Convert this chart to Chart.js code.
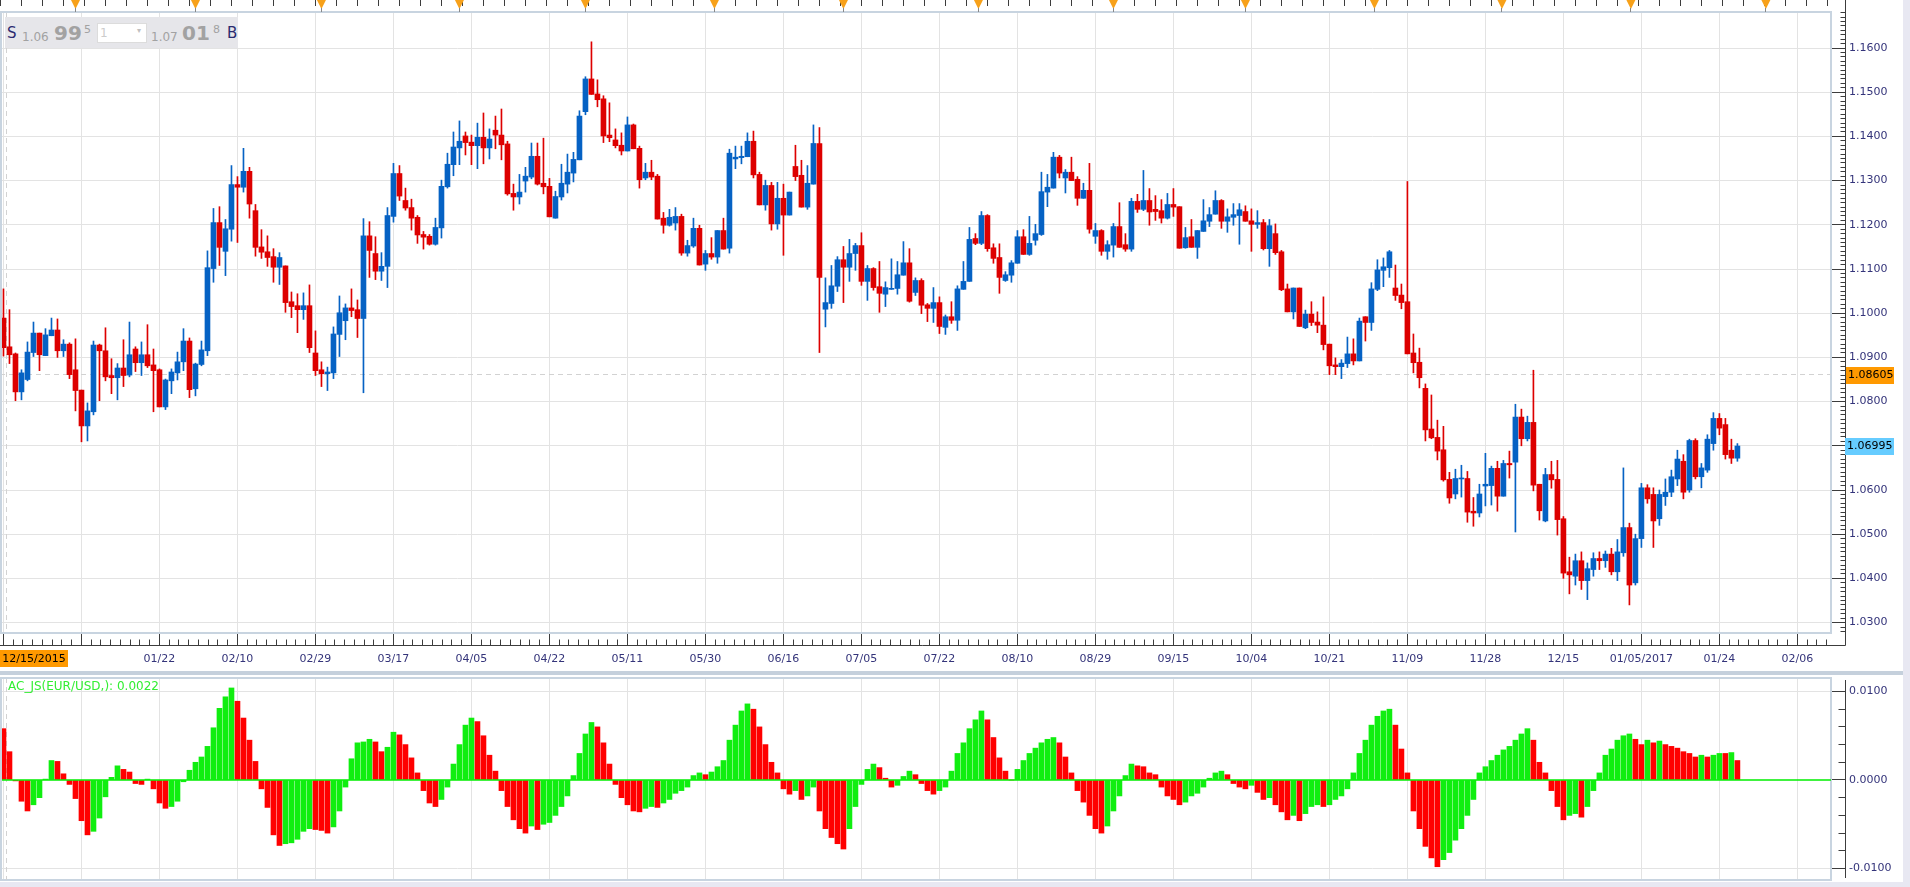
<!DOCTYPE html>
<html>
<head>
<meta charset="utf-8">
<script src="https://cdn.jsdelivr.net/npm/chart.js@4.4.1/dist/chart.umd.min.js"></script>
<style>
body{margin:0;background:#e8e8f2;width:1910px;height:887px;overflow:hidden;position:relative;font-family:"DejaVu Sans",sans-serif}
canvas{position:absolute;left:0;background:#fff}
#sep{position:absolute;left:0;top:671px;width:1903px;height:4px;background:#c5d0dc}
#info{position:absolute;left:5px;top:17px;width:233px;height:31px;background:#e6e6ea;color:#a2a2a2}
#info span{position:absolute;line-height:1;white-space:nowrap}
#info .nav{color:#2b2b70;font-size:15px;top:9px}
#info .sm{font-size:12px;top:14px}
#info .big{font-size:20px;font-weight:bold;top:6px}
#info .sup{font-size:11px;top:7px}
#info .box{left:92px;top:6px;width:48px;height:18px;background:#fff;border:1px solid #dcdcdc}
</style>
</head>
<body>
<canvas id="price" width="1903" height="671" style="top:0"></canvas>
<div id="sep"></div>
<canvas id="ac" width="1903" height="207" style="top:675px"></canvas>
<div id="info">
  <span class="nav" style="left:2px">S</span>
  <span class="sm" style="left:17px">1.06</span>
  <span class="big" style="left:49px">99</span>
  <span class="sup" style="left:79px">5</span>
  <span class="box"></span>
  <span class="sm" style="left:95px;top:10px;color:#cccccc">1</span>
  <span class="sm" style="left:132px;top:10px;font-size:8px;color:#c0c0c0">&#9662;</span>
  <span class="sm" style="left:146px">1.07</span>
  <span class="big" style="left:177px">01</span>
  <span class="sup" style="left:208px">8</span>
  <span class="nav" style="left:222px">B</span>
</div>
<script>
Chart.defaults.font.family = '"DejaVu Sans", sans-serif'
Chart.defaults.font.size = 11

// ------------------------------- DATA (EUR/USD daily, 12/15/2015 ..)

var opens = [
 1.0989,1.0924,1.0908,1.0822,1.0850,1.0911,1.0955,1.0904,1.0949,1.0962,
 1.0915,1.0930,1.0872,1.0826,1.0745,1.0777,1.0928,1.0915,1.0859,1.0854,
 1.0876,1.0860,1.0919,1.0888,1.0906,1.0883,1.0872,1.0788,1.0847,1.0865,
 1.0890,1.0937,1.0829,1.0884,1.0915,1.1101,1.1205,1.1140,1.1190,1.1291,
 1.1285,1.1321,1.1232,1.1150,1.1139,1.1128,1.1104,1.1107,1.1026,1.1017,
 1.1008,1.1017,1.0910,1.0872,1.0863,1.0865,1.0952,1.0983,1.1012,1.1008,
 1.0988,1.1175,1.1135,1.1095,1.1106,1.1219,1.1316,1.1255,1.1239,1.1217,
 1.1178,1.1174,1.1156,1.1193,1.1286,1.1336,1.1374,1.1401,1.1387,1.1379,
 1.1398,1.1374,1.1414,1.1403,1.1383,1.1271,1.1263,1.1299,1.1308,1.1355,
 1.1294,1.1287,1.1215,1.1263,1.1292,1.1317,1.1347,1.1456,1.1530,1.1496,
 1.1485,1.1403,1.1392,1.1380,1.1367,1.1426,1.1373,1.1306,1.1319,1.1310,
 1.1215,1.1199,1.1204,1.1219,1.1136,1.1152,1.1192,1.1111,1.1135,1.1127,
 1.1187,1.1147,1.1349,1.1352,1.1354,1.1389,1.1314,1.1245,1.1289,1.1202,
 1.1260,1.1222,1.1332,1.1312,1.1240,1.1292,1.1384,1.1009,1.1022,1.1061,
 1.1121,1.1104,1.1135,1.1153,1.1072,1.1101,1.1060,1.1043,1.1054,1.1056,
 1.1086,1.1114,1.1047,1.1074,1.1019,1.1011,1.1024,1.0968,1.0992,1.0984,
 1.1054,1.1072,1.1169,1.1158,1.1221,1.1148,1.1126,1.1074,1.1086,1.1113,
 1.1173,1.1133,1.1165,1.1178,1.1274,1.1283,1.1353,1.1306,1.1319,1.1303,
 1.1260,1.1278,1.1174,1.1187,1.1140,1.1154,1.1196,1.1155,1.1145,1.1253,
 1.1235,1.1255,1.1235,1.1232,1.1215,1.1246,1.1241,1.1148,1.1173,1.1149,
 1.1185,1.1208,1.1224,1.1255,1.1208,1.1217,1.1221,1.1230,1.1209,1.1201,
 1.1205,1.1146,1.1180,1.1139,1.1055,1.1003,1.1057,1.0967,1.0998,1.0980,
 1.0973,1.0930,1.0883,1.0879,1.0886,1.0908,1.0892,1.0992,1.0979,1.1054,
 1.1097,1.1103,1.1057,1.1041,1.1026,1.0910,1.0889,1.0830,1.0738,1.0719,
 1.0691,1.0624,1.0591,1.0625,1.0626,1.0552,1.0548,1.0609,1.0610,1.0649,
 1.0586,1.0660,1.0663,1.0765,1.0716,1.0753,1.0613,1.0530,1.0635,1.0624,
 1.0535,1.0415,1.0405,1.0440,1.0395,1.0420,1.0445,1.0440,1.0455,1.0415,
 1.0458,1.0515,1.0390,1.0490,1.0605,1.0590,1.0535,1.0585,1.0595,1.0625,
 1.0665,1.0600,1.0712,1.0630,1.0645,1.0705,1.0762,1.0748,1.0690,1.0672
]

var highs = [
 1.1055,1.1008,1.0910,1.0872,1.0935,1.0980,1.0955,1.0965,1.0989,1.0987,
 1.0940,1.0933,1.0942,1.0826,1.0797,1.0937,1.0930,1.0967,1.0897,1.0886,
 1.0940,1.0980,1.0924,1.0935,1.0974,1.0919,1.0874,1.0851,1.0874,1.0912,
 1.0965,1.0944,1.0887,1.0937,1.1141,1.1237,1.1241,1.1212,1.1334,1.1309,
 1.1373,1.1330,1.1246,1.1189,1.1175,1.1146,1.1137,1.1107,1.1048,1.1044,
 1.1046,1.1064,1.0960,1.0890,1.0878,1.0969,1.1039,1.1021,1.1055,1.1030,
 1.1214,1.1207,1.1173,1.1137,1.1239,1.1339,1.1334,1.1283,1.1258,1.1221,
 1.1185,1.1178,1.1215,1.1301,1.1362,1.1410,1.1435,1.1410,1.1403,1.1430,
 1.1453,1.1417,1.1446,1.1462,1.1389,1.1292,1.1314,1.1330,1.1385,1.1385,
 1.1396,1.1305,1.1276,1.1337,1.1360,1.1364,1.1458,1.1535,1.1614,1.1528,
 1.1492,1.1476,1.1417,1.1408,1.1444,1.1428,1.1378,1.1339,1.1346,1.1314,
 1.1228,1.1235,1.1239,1.1224,1.1165,1.1215,1.1199,1.1142,1.1171,1.1187,
 1.1215,1.1371,1.1378,1.1378,1.1408,1.1412,1.1319,1.1301,1.1296,1.1296,
 1.1292,1.1274,1.1380,1.1346,1.1334,1.1426,1.1420,1.1080,1.1108,1.1128,
 1.1151,1.1167,1.1158,1.1182,1.1108,1.1103,1.1117,1.1071,1.1123,1.1117,
 1.1162,1.1146,1.1080,1.1078,1.1022,1.1058,1.1037,1.0996,1.1026,1.1062,
 1.1117,1.1194,1.1180,1.1230,1.1223,1.1157,1.1157,1.1094,1.1119,1.1187,
 1.1189,1.1219,1.1201,1.1319,1.1314,1.1364,1.1357,1.1325,1.1353,1.1309,
 1.1294,1.1339,1.1203,1.1189,1.1164,1.1203,1.1250,1.1180,1.1260,1.1269,
 1.1323,1.1282,1.1266,1.1257,1.1271,1.1282,1.1241,1.1194,1.1212,1.1187,
 1.1257,1.1239,1.1277,1.1257,1.1236,1.1248,1.1248,1.1243,1.1236,1.1232,
 1.1212,1.1212,1.1202,1.1142,1.1066,1.1057,1.1057,1.1007,1.1026,1.1003,
 1.1037,1.0930,1.0899,1.0895,1.0946,1.0942,1.0989,1.0992,1.1069,1.1121,
 1.1125,1.1142,1.1109,1.1066,1.1298,1.0953,1.0921,1.0840,1.0815,1.0758,
 1.0744,1.0640,1.0647,1.0656,1.0642,1.0583,1.0613,1.0683,1.0654,1.0665,
 1.0667,1.0688,1.0794,1.0783,1.0767,1.0871,1.0613,1.0649,1.0665,1.0667,
 1.0540,1.0448,1.0455,1.0460,1.0435,1.0458,1.0460,1.0462,1.0468,1.0488,
 1.0650,1.0525,1.0500,1.0615,1.0612,1.0605,1.0600,1.0625,1.0645,1.0690,
 1.0680,1.0715,1.0716,1.0660,1.0725,1.0775,1.0773,1.0762,1.0715,1.0705
]

var lows = [
 1.0903,1.0886,1.0802,1.0804,1.0847,1.0902,1.0870,1.0904,1.0949,1.0900,
 1.0902,1.0852,1.0779,1.0709,1.0711,1.0770,1.0802,1.0847,1.0818,1.0804,
 1.0834,1.0856,1.0868,1.0859,1.0877,1.0777,1.0788,1.0782,1.0818,1.0849,
 1.0870,1.0809,1.0813,1.0881,1.0904,1.1070,1.1108,1.1085,1.1163,1.1160,
 1.1274,1.1215,1.1129,1.1124,1.1106,1.1070,1.1065,1.1002,1.0990,1.0956,
 1.0986,1.0911,1.0859,1.0834,1.0825,1.0852,1.0902,1.0940,1.0992,1.0945,
 1.0820,1.1081,1.1076,1.1074,1.1058,1.1206,1.1255,1.1233,1.1188,1.1158,
 1.1145,1.1154,1.1154,1.1170,1.1283,1.1311,1.1336,1.1358,1.1336,1.1327,
 1.1338,1.1349,1.1372,1.1347,1.1267,1.1233,1.1247,1.1274,1.1304,1.1290,
 1.1270,1.1218,1.1215,1.1256,1.1272,1.1297,1.1347,1.1449,1.1495,1.1467,
 1.1386,1.1388,1.1374,1.1358,1.1367,1.1372,1.1283,1.1302,1.1302,1.1213,
 1.1181,1.1197,1.1188,1.1131,1.1129,1.1149,1.1109,1.1097,1.1122,1.1113,
 1.1145,1.1136,1.1327,1.1338,1.1354,1.1306,1.1245,1.1233,1.1188,1.1190,
 1.1131,1.1222,1.1300,1.1240,1.1235,1.1292,1.0911,1.0969,1.1011,1.1049,
 1.1024,1.1072,1.1097,1.1063,1.1029,1.1052,1.1002,1.1015,1.1054,1.1043,
 1.1086,1.1025,1.1040,1.0999,1.0981,1.0979,1.0954,1.0952,1.0977,1.0961,
 1.1054,1.1072,1.1155,1.1155,1.1140,1.1113,1.1045,1.1072,1.1070,1.1113,
 1.1133,1.1131,1.1154,1.1176,1.1241,1.1283,1.1306,1.1272,1.1300,1.1244,
 1.1260,1.1181,1.1158,1.1131,1.1122,1.1127,1.1149,1.1140,1.1140,1.1228,
 1.1232,1.1199,1.1210,1.1204,1.1213,1.1219,1.1147,1.1147,1.1149,1.1124,
 1.1185,1.1196,1.1224,1.1192,1.1183,1.1199,1.1156,1.1208,1.1140,1.1192,
 1.1143,1.1106,1.1133,1.1051,1.1003,1.0987,1.0970,1.0965,1.0972,1.0956,
 1.0917,1.0861,1.0861,1.0852,1.0877,1.0883,1.0892,1.0937,1.0961,1.1051,
 1.1060,1.1081,1.1029,1.1010,1.0908,1.0865,1.0831,1.0711,1.0716,1.0668,
 1.0620,1.0570,1.0580,1.0584,1.0527,1.0518,1.0539,1.0564,1.0566,1.0552,
 1.0586,1.0627,1.0505,1.0700,1.0711,1.0598,1.0532,1.0528,1.0604,1.0498,
 1.0400,1.0365,1.0385,1.0375,1.0352,1.0405,1.0420,1.0425,1.0408,1.0395,
 1.0450,1.0340,1.0385,1.0470,1.0570,1.0470,1.0520,1.0565,1.0585,1.0610,
 1.0580,1.0595,1.0625,1.0605,1.0640,1.0690,1.0725,1.0670,1.0660,1.0665
]

var closes = [
 1.0922,1.0906,1.0822,1.0865,1.0912,1.0955,1.0906,1.0951,1.0962,1.0915,
 1.0930,1.0861,1.0825,1.0745,1.0779,1.0928,1.0915,1.0856,1.0854,1.0876,
 1.0859,1.0906,1.0888,1.0906,1.0881,1.0870,1.0788,1.0849,1.0867,1.0890,
 1.0937,1.0827,1.0885,1.0917,1.1103,1.1205,1.1149,1.1191,1.1291,1.1285,
 1.1321,1.1247,1.1149,1.1138,1.1126,1.1104,1.1126,1.1024,1.1015,1.1008,
 1.1017,1.0922,1.0870,1.0863,1.0867,1.0953,1.1001,1.1012,1.1006,1.0988,
 1.1175,1.1142,1.1095,1.1106,1.1221,1.1316,1.1265,1.1238,1.1215,1.1177,
 1.1172,1.1156,1.1194,1.1287,1.1337,1.1376,1.1389,1.1386,1.1379,1.1398,
 1.1374,1.1394,1.1403,1.1381,1.1270,1.1263,1.1274,1.1310,1.1355,1.1292,
 1.1286,1.1218,1.1264,1.1294,1.1319,1.1348,1.1446,1.1530,1.1495,1.1483,
 1.1401,1.1397,1.1379,1.1367,1.1426,1.1372,1.1302,1.1319,1.1308,1.1213,
 1.1199,1.1217,1.1219,1.1136,1.1153,1.1192,1.1109,1.1135,1.1127,1.1187,
 1.1145,1.1362,1.1353,1.1355,1.1389,1.1313,1.1245,1.1289,1.1202,1.1260,
 1.1222,1.1274,1.1309,1.1240,1.1294,1.1384,1.1081,1.1024,1.1062,1.1121,
 1.1104,1.1135,1.1153,1.1072,1.1101,1.1058,1.1045,1.1058,1.1056,1.1087,
 1.1114,1.1027,1.1074,1.1018,1.1011,1.1024,1.0970,1.0992,1.0984,1.1055,
 1.1072,1.1167,1.1158,1.1221,1.1146,1.1124,1.1081,1.1087,1.1114,1.1173,
 1.1133,1.1158,1.1180,1.1275,1.1285,1.1353,1.1317,1.1319,1.1300,1.1260,
 1.1278,1.1190,1.1187,1.1140,1.1155,1.1196,1.1149,1.1145,1.1253,1.1235,
 1.1255,1.1229,1.1230,1.1215,1.1246,1.1240,1.1147,1.1171,1.1149,1.1187,
 1.1209,1.1223,1.1255,1.1208,1.1218,1.1223,1.1234,1.1208,1.1201,1.1205,
 1.1146,1.1198,1.1137,1.1053,1.1003,1.1057,1.0970,1.0998,1.0979,1.0973,
 1.0929,1.0881,1.0879,1.0887,1.0908,1.0892,1.0982,1.0979,1.1055,1.1098,
 1.1105,1.1139,1.1040,1.1024,1.0908,1.0888,1.0854,1.0736,1.0718,1.0688,
 1.0623,1.0582,1.0626,1.0626,1.0550,1.0548,1.0591,1.0613,1.0649,1.0586,
 1.0660,1.0657,1.0765,1.0716,1.0753,1.0611,1.0553,1.0635,1.0623,1.0533,
 1.0412,1.0408,1.0440,1.0395,1.0422,1.0445,1.0440,1.0455,1.0415,1.0460,
 1.0515,1.0385,1.0490,1.0605,1.0580,1.0530,1.0590,1.0595,1.0630,1.0670,
 1.0595,1.0712,1.0630,1.0650,1.0715,1.0762,1.0740,1.0680,1.0672,1.06995
]

// AC oscillator, one value per candle
var acValues = [
  0.0058, 0.0032,-0.0001,-0.0024,-0.0035,-0.0028,-0.0020, 0.0001, 0.0022, 0.0021,
  0.0007,-0.0005,-0.0021,-0.0046,-0.0062,-0.0058,-0.0043,-0.0019, 0.0003, 0.0016,
  0.0012, 0.0009,-0.0004,-0.0005, 0.0001,-0.0010,-0.0026,-0.0032,-0.0030,-0.0024,
 -0.0002, 0.0011, 0.0020, 0.0026, 0.0038, 0.0059, 0.0081, 0.0094, 0.0104, 0.0089,
  0.0070, 0.0045, 0.0021,-0.0010,-0.0031,-0.0062,-0.0074,-0.0072,-0.0071,-0.0067,
 -0.0058,-0.0055,-0.0056,-0.0057,-0.0060,-0.0053,-0.0035,-0.0008, 0.0024, 0.0042,
  0.0043, 0.0046, 0.0043, 0.0032, 0.0037, 0.0054, 0.0051, 0.0040, 0.0025, 0.0008,
 -0.0012,-0.0026,-0.0030,-0.0022,-0.0008, 0.0018, 0.0040, 0.0062, 0.0070, 0.0066,
  0.0050, 0.0028, 0.0010,-0.0012,-0.0030,-0.0045,-0.0055,-0.0060,-0.0052,-0.0056,
 -0.0050,-0.0048,-0.0040,-0.0030,-0.0018, 0.0005, 0.0030, 0.0052, 0.0065, 0.0060,
  0.0042, 0.0018,-0.0005,-0.0020,-0.0028,-0.0035,-0.0036,-0.0032,-0.0030,-0.0031,
 -0.0026,-0.0022,-0.0015,-0.0012,-0.0008, 0.0005, 0.0008, 0.0006, 0.0009, 0.0015,
  0.0022, 0.0045, 0.0062, 0.0078, 0.0086, 0.0080, 0.0060, 0.0040, 0.0020, 0.0008,
 -0.0010,-0.0016,-0.0012,-0.0022,-0.0018,-0.0008,-0.0035,-0.0055,-0.0065,-0.0072,
 -0.0078,-0.0055,-0.0030,-0.0005, 0.0012, 0.0018, 0.0014, 0.0002,-0.0008,-0.0006,
  0.0004, 0.0010, 0.0006,-0.0004,-0.0012,-0.0016,-0.0012,-0.0008, 0.0010, 0.0030,
  0.0042, 0.0058, 0.0068, 0.0078, 0.0068, 0.0048, 0.0025, 0.0010, 0.0000, 0.0012,
  0.0022, 0.0030, 0.0036, 0.0042, 0.0046, 0.0048, 0.0042, 0.0026, 0.0008,-0.0012,
 -0.0025,-0.0040,-0.0055,-0.0060,-0.0052,-0.0035,-0.0018, 0.0005, 0.0018, 0.0016,
  0.0015, 0.0008, 0.0006,-0.0008,-0.0018,-0.0022,-0.0028,-0.0025,-0.0018,-0.0015,
 -0.0008, 0.0002, 0.0008, 0.0010, 0.0006,-0.0004,-0.0008,-0.0010,-0.0006,-0.0014,
 -0.0022,-0.0020,-0.0028,-0.0036,-0.0045,-0.0040,-0.0046,-0.0038,-0.0030,-0.0028,
 -0.0030,-0.0028,-0.0022,-0.0018,-0.0010, 0.0008, 0.0030, 0.0045, 0.0062, 0.0072,
  0.0078, 0.0080, 0.0062, 0.0035, 0.0008,-0.0035,-0.0055,-0.0075,-0.0088,-0.0098,
 -0.0090,-0.0082,-0.0068,-0.0055,-0.0040,-0.0022, 0.0008, 0.0015, 0.0022, 0.0028,
  0.0034, 0.0038, 0.0045, 0.0052, 0.0058, 0.0045, 0.0020, 0.0008,-0.0012,-0.0030,
 -0.0045,-0.0040,-0.0038,-0.0042,-0.0030,-0.0012, 0.0008, 0.0028, 0.0035, 0.0045,
  0.0050, 0.0052, 0.0046, 0.0040, 0.0045, 0.0042, 0.0044, 0.0040, 0.0038, 0.0036,
  0.0032, 0.0030, 0.0026, 0.0028, 0.0026, 0.0028, 0.0030, 0.0030, 0.0031, 0.0022
]

var xTickIdx = [0,13,26,39,52,65,78,91,104,117,130,143,156,169,182,195,208,221,234,247,260,273,286,299]
var xTickLabels = ['','','01/22','02/10','02/29','03/17','04/05','04/22','05/11','05/30','06/16','07/05',
  '07/22','08/10','08/29','09/15','10/04','10/21','11/09','11/28','12/15','01/05/2017','01/24','02/06']
var priceTicks = [1.03,1.04,1.05,1.06,1.07,1.08,1.09,1.10,1.11,1.12,1.13,1.14,1.15,1.16]
var acTicks = [-0.01, 0, 0.01]
var monthMarks = [12,32,53,76,97,118.5,140,162.5,185,207,228.5,249.75,271.25,293.75]

var crossPrice = 1.08605
var crossIndex = 0.5
var crossDate = '12/15/2015'
var acName = 'AC_JS(EUR/USD,)'

// ------------------------------- LOOKS

var xMin = -0.58, xMax = 304.6
var priceMin = 1.027647, priceMax = 1.168145
var acMin = -0.0113, acMax = 0.011525

var upCol = '#0662c4', downCol = '#dd0000'
var acUp = '#10ee10', acDown = '#ff0000'
var gridCol = '#e3e3e3', frameCol = '#c8d4e0', axisCol = '#3c3c3c', labelCol = '#34347a'

var candleColors = closes.map((c,i) => c >= opens[i] ? upCol : downCol)
var wickData = lows.map((l,i) => ({x: i, y: [l, highs[i]]}))
var bodyData = opens.map((o,i) => ({x: i, y: [o, closes[i]]}))
var acData = acValues.map((v,i) => ({x: i, y: v}))
var acColors = acValues.map((v,i) => (i > 0 && v > acValues[i-1]) ? acUp : acDown)

function fixBox(w, h){
    return (s) => {
        if(w != null) s.width = w
        if(h != null) s.height = h
        s.paddingLeft = 0; s.paddingRight = 0; s.paddingTop = 0; s.paddingBottom = 0
    }
}

function xScale(showLabels){
    return {
        type: 'linear', min: xMin, max: xMax, offset: false,
        afterBuildTicks: (s) => { s.ticks = xTickIdx.map(v => ({value: v})) },
        afterFit: fixBox(null, showLabels ? 38 : 0),
        grid: {color: gridCol, offset: false, drawTicks: showLabels, tickLength: 12, tickColor: axisCol},
        border: {color: frameCol, width: 2},
        ticks: {display: showLabels, autoSkip: false, maxRotation: 0, padding: 8, color: labelCol,
                callback: (v, i) => xTickLabels[i]}
    }
}

function line(ctx, x1, y1, x2, y2){
    ctx.moveTo(x1, y1); ctx.lineTo(x2, y2)
}

function px(scale, v){
    return Math.floor(scale.getPixelForValue(v)) + 0.5
}

function tag(ctx, x, y, w, col, text){
    ctx.fillStyle = col
    ctx.fillRect(x, Math.round(y) - 8, w, 17)
    ctx.fillStyle = '#000'
    ctx.font = '11px "DejaVu Sans"'
    ctx.textBaseline = 'middle'
    ctx.textAlign = 'left'
    ctx.fillText(text, x + 2, Math.round(y) + 0.5)
}

var priceDecor = {
    id: 'priceDecor',
    beforeDatasetsDraw(chart){
        const {ctx, chartArea: a, scales: {x, y}} = chart
        ctx.save()
        ctx.strokeStyle = '#d2d2d2'
        ctx.lineWidth = 1
        ctx.setLineDash([5,4])
        ctx.beginPath()
        line(ctx, a.left, px(y, crossPrice), a.right, px(y, crossPrice))
        line(ctx, px(x, crossIndex), a.top, px(x, crossIndex), a.bottom)
        ctx.stroke()
        ctx.restore()
    },
    afterDraw(chart){
        const {ctx, chartArea: a, scales: {x, y}} = chart
        const axX = a.right + 14.5, axY = a.bottom + 12.5
        ctx.save()
        // plot frame top and left
        ctx.strokeStyle = frameCol
        ctx.lineWidth = 2
        ctx.beginPath()
        line(ctx, 0, a.top, a.right, a.top)
        line(ctx, 1, a.top, 1, a.bottom)
        ctx.stroke()
        // axes lines and minor ticks
        ctx.strokeStyle = axisCol
        ctx.lineWidth = 1
        ctx.beginPath()
        line(ctx, 0, axY, axX, axY)
        line(ctx, axX, 0, axX, axY)
        for(let k = 1; k * 13 / 8 <= xMax; k++){
            if(k % 8 == 0) continue
            let p = px(x, k * 13 / 8)
            line(ctx, p, axY - 6, p, axY)
        }
        for(let k = 1028; k <= 1168; k++){
            if(k % 10 == 0) continue
            let p = px(y, k / 1000)
            line(ctx, axX - 5, p, axX, p)
        }
        // top timeline ticks
        for(let v = -0.5; v <= xMax; v += 3.5){
            let p = px(x, v)
            line(ctx, p, 0, p, 6)
        }
        ctx.stroke()
        // month markers
        for(let m of monthMarks){
            let p = x.getPixelForValue(m)
            ctx.fillStyle = '#f7a11a'
            ctx.beginPath()
            ctx.moveTo(p - 4.5, 0); ctx.lineTo(p + 4.5, 0); ctx.lineTo(p, 9)
            ctx.closePath()
            ctx.fill()
            ctx.strokeStyle = '#888'
            ctx.beginPath()
            line(ctx, Math.floor(p) + 0.5, 8, Math.floor(p) + 0.5, 12)
            ctx.stroke()
        }
        // price tags
        tag(ctx, a.right + 15, y.getPixelForValue(crossPrice), 48, '#ff9900', crossPrice.toFixed(5))
        let last = closes[closes.length - 1]
        tag(ctx, a.right + 14, y.getPixelForValue(last), 49, '#66ccff', last.toFixed(5))
        // date tag
        ctx.fillStyle = '#ff9900'
        ctx.fillRect(0, a.bottom + 17, 68, 17)
        ctx.fillStyle = '#000'
        ctx.textAlign = 'center'
        ctx.textBaseline = 'middle'
        ctx.fillText(crossDate, 34, a.bottom + 26)
        ctx.restore()
    }
}

var acDecor = {
    id: 'acDecor',
    beforeDatasetsDraw(chart){
        const {ctx, chartArea: a, scales: {x}} = chart
        ctx.save()
        ctx.strokeStyle = '#d2d2d2'
        ctx.setLineDash([5,4])
        ctx.beginPath()
        line(ctx, px(x, crossIndex), a.top, px(x, crossIndex), a.bottom)
        ctx.stroke()
        ctx.restore()
    },
    afterDatasetsDraw(chart){
        const {ctx, chartArea: a, scales: {y}} = chart
        ctx.save()
        ctx.strokeStyle = '#00ee00'
        ctx.lineWidth = 1.5
        ctx.beginPath()
        line(ctx, a.left, y.getPixelForValue(0), a.right, y.getPixelForValue(0))
        ctx.stroke()
        ctx.restore()
    },
    afterDraw(chart){
        const {ctx, chartArea: a, scales: {y}} = chart
        const axX = a.right + 14.5
        ctx.save()
        ctx.strokeStyle = frameCol
        ctx.lineWidth = 2
        ctx.beginPath()
        line(ctx, 0, a.top, a.right, a.top)
        line(ctx, 1, a.top, 1, a.bottom)
        ctx.stroke()
        ctx.strokeStyle = axisCol
        ctx.lineWidth = 1
        ctx.beginPath()
        line(ctx, axX, a.top + 2, axX, a.bottom - 2)
        for(let k = -5; k <= 5; k++){
            if(k % 5 == 0) continue
            let p = px(y, k * 0.002)
            line(ctx, axX - 7, p, axX, p)
        }
        ctx.stroke()
        ctx.fillStyle = '#33ee33'
        ctx.font = '12px "DejaVu Sans"'
        ctx.textAlign = 'left'
        ctx.textBaseline = 'middle'
        ctx.fillText(acName + ': ' + acValues[acValues.length - 1].toFixed(4), 8, a.top + 8.5)
        ctx.restore()
    }
}

new Chart(document.getElementById('price'), {
    type: 'bar',
    data: {
        datasets: [
            {data: wickData, backgroundColor: candleColors, barThickness: 1, grouped: false, borderWidth: 0},
            {data: bodyData, backgroundColor: candleColors, barThickness: 5, grouped: false, borderWidth: 0, minBarLength: 1}
        ]
    },
    options: {
        responsive: false, animation: false, devicePixelRatio: 1,
        layout: {padding: {top: 12, left: 0, right: 0, bottom: 0}},
        plugins: {legend: {display: false}, tooltip: {enabled: false}},
        scales: {
            x: xScale(true),
            y: {
                position: 'right', min: priceMin, max: priceMax,
                afterBuildTicks: (s) => { s.ticks = priceTicks.map(v => ({value: v})) },
                afterFit: fixBox(72, null),
                grid: {color: gridCol, tickLength: 14, tickColor: axisCol},
                border: {color: frameCol, width: 2},
                ticks: {padding: 4, color: labelCol, callback: (v) => v.toFixed(4)}
            }
        }
    },
    plugins: [priceDecor]
})

new Chart(document.getElementById('ac'), {
    type: 'bar',
    data: {
        datasets: [
            {data: acData, backgroundColor: acColors, barThickness: 5, borderWidth: 0}
        ]
    },
    options: {
        responsive: false, animation: false, devicePixelRatio: 1,
        layout: {padding: {top: 3, left: 0, right: 0, bottom: 2}},
        plugins: {legend: {display: false}, tooltip: {enabled: false}},
        scales: {
            x: xScale(false),
            y: {
                position: 'right', min: acMin, max: acMax,
                afterBuildTicks: (s) => { s.ticks = acTicks.map(v => ({value: v})) },
                afterFit: fixBox(72, null),
                grid: {color: (c) => c.tick && c.tick.value == 0 ? 'rgba(0,0,0,0)' : gridCol, tickLength: 14, tickColor: axisCol},
                border: {color: frameCol, width: 2},
                ticks: {padding: 4, color: labelCol, callback: (v) => v.toFixed(4)}
            }
        }
    },
    plugins: [acDecor]
})
</script>
</body>
</html>
